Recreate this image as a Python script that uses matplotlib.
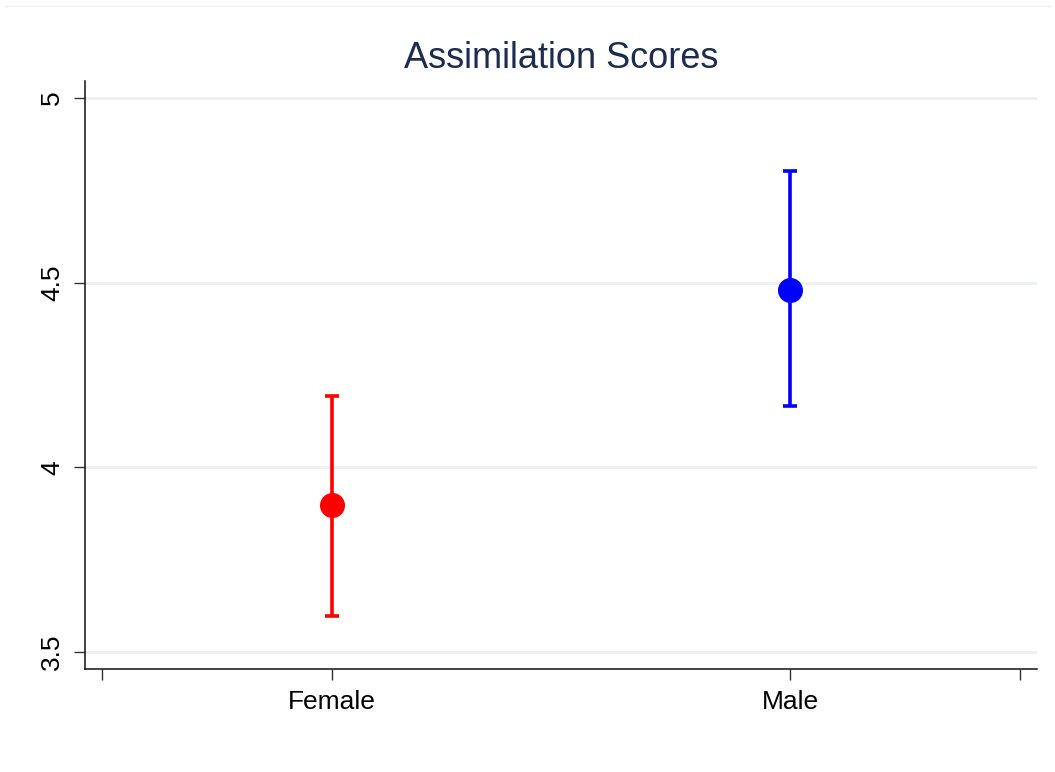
import matplotlib
matplotlib.use("Agg")
import matplotlib.pyplot as plt
from matplotlib.lines import Line2D

# group means and confidence limits
groups = ["Female", "Male"]
means = [3.897, 4.481]
lower = [3.597, 4.165]
upper = [4.192, 4.803]
colors = ["#ff0000", "#0000ff"]

yticks = [3.5, 4, 4.5, 5]
ytick_labels = ["3.5", "4", "4.5", "5"]
xticks = [0.5, 1, 2, 2.5]
xtick_labels = ["", "Female", "Male", ""]

plt.rcParams["font.family"] = ["Liberation Sans", "DejaVu Sans"]

fig = plt.figure(figsize=(10.55, 7.72), dpi=100)
ax = fig.add_axes([0.0806, 0.1334, 0.9023, 0.762])

for i, g in enumerate(groups):
    x = i + 1
    ax.errorbar([x], [means[i]],
                yerr=[[means[i] - lower[i]], [upper[i] - means[i]]],
                fmt="o", color=colors[i], markersize=17, elinewidth=2.6,
                capsize=5, capthick=2.6, zorder=3)

for y in yticks:
    ax.axhline(y, color="#eaf0f0", linewidth=2, zorder=1)

ax.set_xlim(0.462, 2.538)
ax.set_ylim(3.454, 5.046)
ax.set_xticks(xticks)
ax.set_xticklabels(xtick_labels, fontsize=19)
ax.set_yticks(yticks)
ax.set_yticklabels(ytick_labels, fontsize=19, rotation=90, va="center")
ax.tick_params(axis="both", length=8, width=1, color="#333333", pad=7)

ax.spines["top"].set_visible(False)
ax.spines["right"].set_visible(False)
for s in ("left", "bottom"):
    ax.spines[s].set_linewidth(1.1)
    ax.spines[s].set_color("#111111")

ax.set_title("Assimilation Scores", fontsize=26, color="#1c2b4f", pad=9)

# faint outer region border at the top
fig.add_artist(Line2D([0.005, 0.995], [0.992, 0.992], transform=fig.transFigure,
                      color="#f0f3f3", linewidth=1))

fig.savefig("out.png", dpi=100)
